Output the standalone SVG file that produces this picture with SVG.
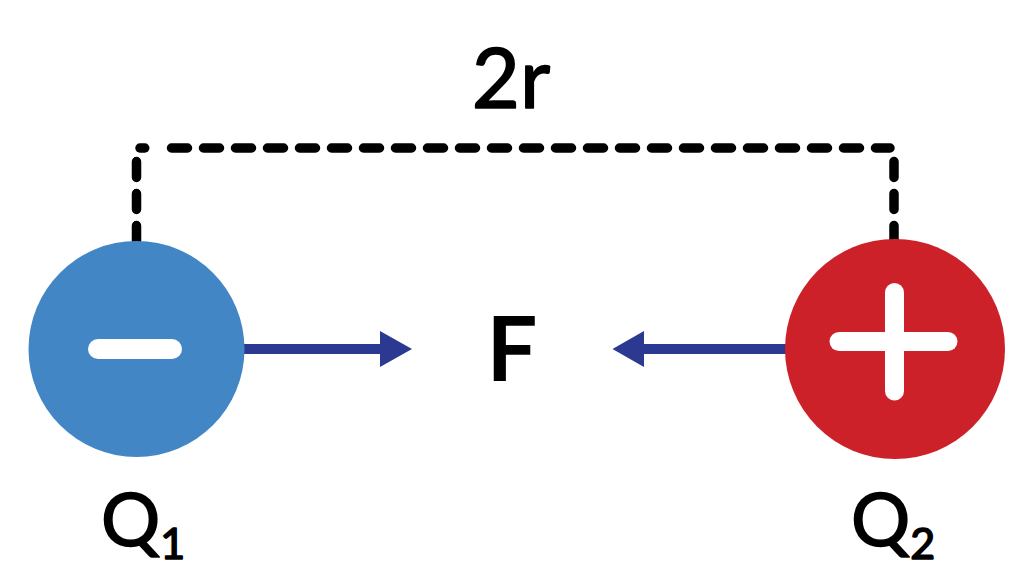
<svg xmlns="http://www.w3.org/2000/svg" width="1024" height="576" viewBox="0 0 1024 576">
<style>
.dash{fill:none;stroke:#000;stroke-width:9.5;stroke-linecap:round;stroke-dasharray:16 16}
.dot{fill:none;stroke:#000;stroke-width:9.5;stroke-linecap:round}
.sign{fill:none;stroke:#fff;stroke-width:20;stroke-linecap:round}
.force{stroke:#2b3990;stroke-width:10;fill:none}
.head{fill:#2b3990}
.lbl{font-family:Lato,"Liberation Sans",sans-serif;fill:#000}
.med{stroke:#000;stroke-width:1.6;stroke-linejoin:round}
</style>
<rect width="1024" height="576" fill="#fff"/>
<g id="distance">
<line class="dash" x1="136.5" y1="161.5" x2="136.5" y2="241.5"/>
<line class="dash" x1="894" y1="161.5" x2="894" y2="241.5"/>
<line class="dot" x1="140" y1="148" x2="144.75" y2="148"/>
<line class="dash" x1="171.5" y1="148" x2="890" y2="148"/>
<text class="lbl med" x="511" y="108" font-size="83" text-anchor="middle">2r</text>
</g>
<g id="connectors">
<line class="force" x1="240" y1="349" x2="382" y2="349"/>
<polygon class="head" points="380,331 412,349 380,367"/>
<line class="force" x1="642" y1="349" x2="790" y2="349"/>
<polygon class="head" points="644,331 612.5,349 644,367"/>
</g>
<g id="force-label">
<text class="lbl" x="512" y="381" font-size="90" font-weight="bold" text-anchor="middle">F</text>
</g>
<g id="q1">
<circle cx="136.5" cy="349" r="108" fill="#4286c6"/>
<line class="sign" x1="98" y1="349" x2="172" y2="349"/>
<text class="lbl med" x="101" y="546" font-size="74">Q<tspan font-size="43" dy="13">1</tspan></text>
</g>
<g id="q2">
<circle cx="895" cy="349" r="110" fill="#cd2129"/>
<line class="sign" x1="839" y1="341.5" x2="948" y2="341.5" style="stroke-width:19"/>
<line class="sign" x1="894.5" y1="292.5" x2="894.5" y2="391" style="stroke-width:19"/>
<text class="lbl med" x="851" y="546" font-size="74">Q<tspan font-size="43" dy="13">2</tspan></text>
</g>
</svg>
